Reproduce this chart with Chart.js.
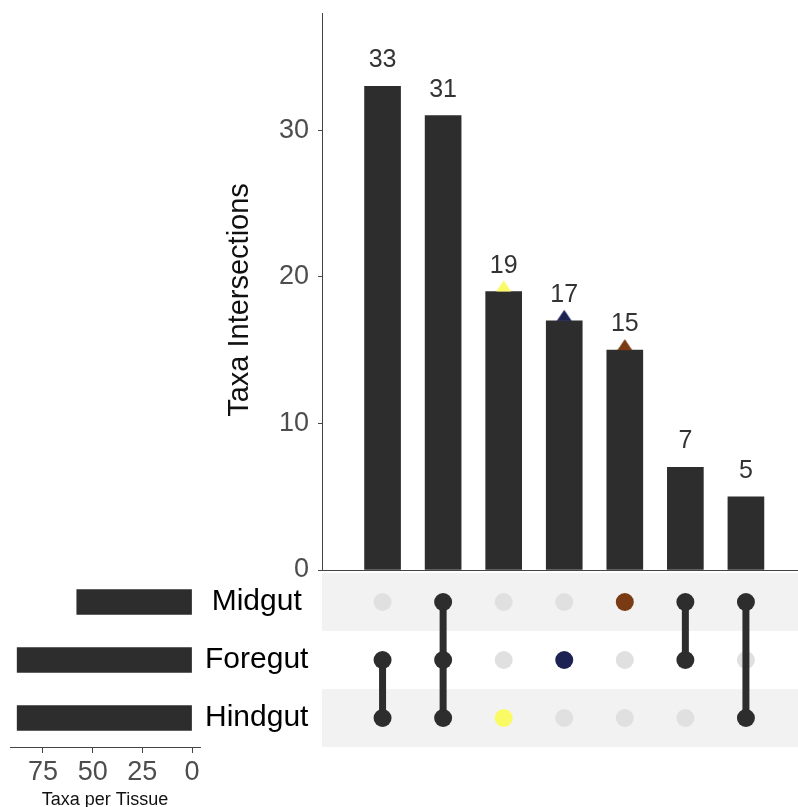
<!DOCTYPE html>
<html lang="en">
<head>
<meta charset="UTF-8">
<title>Taxa Intersections</title>
<script src="https://cdn.jsdelivr.net/npm/chart.js"></script>
<style>
  body { margin: 0; background: #fff; overflow: hidden; }
  .plot { position: relative; width: 798px; height: 807px; overflow: hidden; }
  .plot canvas { position: absolute; }
  #barsChart { left: 0; top: 0; }
  #matrixChart { left: 322px; top: 573px; }
  #setsChart { left: 0; top: 573px; }
</style>
</head>
<body>
<div class="plot">
  <canvas id="matrixChart" width="476" height="174"></canvas>
  <canvas id="setsChart" width="322" height="240"></canvas>
  <canvas id="barsChart" width="798" height="600"></canvas>
</div>
<script>
// tissues, top to bottom in the matrix
const sets = ['Midgut', 'Foregut', 'Hindgut'];
const setSizes = [58, 88, 88];
const setColors = ['#7a3b14', '#1c2353', '#fafa64'];

// intersections, largest first
const intersectionSizes = [33, 31, 19, 17, 15, 7, 5];
const intersectionMembers = [
  ['Foregut', 'Hindgut'],
  ['Midgut', 'Foregut', 'Hindgut'],
  ['Hindgut'],
  ['Foregut'],
  ['Midgut'],
  ['Midgut', 'Foregut'],
  ['Midgut', 'Hindgut']
];

const countTicks = [0, 10, 20, 30];
const tissueTicks = [0, 25, 50, 75];

const ink = '#2d2d2d';
const axisColor = '#444';
const font = '"Liberation Sans", Arial, sans-serif';
const xMin = 0, xMax = 7.86;

const rowOf = name => sets.length - 1 - sets.indexOf(name);

// small triangle sitting on top of the bar (base at the point)
function triangle(color) {
  const c = document.createElement('canvas');
  c.width = 18; c.height = 24;
  const g = c.getContext('2d');
  g.fillStyle = color;
  g.beginPath();
  g.moveTo(9, 1);
  g.lineTo(16.5, 12);
  g.lineTo(1.5, 12);
  g.closePath();
  g.fill();
  return c;
}

// ---------- intersection bars ----------
const markers = [];
const markerStyles = [];
intersectionMembers.forEach((members, i) => {
  if (members.length === 1) {
    markers.push({ x: i + 1, y: intersectionSizes[i] });
    markerStyles.push(triangle(setColors[sets.indexOf(members[0])]));
  }
});

const valueLabels = {
  id: 'valueLabels',
  afterDatasetsDraw(chart) {
    const ctx = chart.ctx;
    ctx.save();
    ctx.font = '25px ' + font;
    ctx.fillStyle = '#333';
    ctx.textAlign = 'center';
    ctx.textBaseline = 'alphabetic';
    chart.getDatasetMeta(0).data.forEach((bar, i) => {
      ctx.fillText(intersectionSizes[i], bar.x, bar.y - 19);
    });
    // y axis title
    ctx.font = '29px ' + font;
    ctx.fillStyle = '#111';
    ctx.translate(248, 300);
    ctx.rotate(-Math.PI / 2);
    ctx.fillText('Taxa Intersections', 0, 0);
    ctx.restore();
  }
};

new Chart(document.getElementById('barsChart'), {
  type: 'bar',
  data: {
    datasets: [{
      type: 'bar',
      data: intersectionSizes.map((v, i) => ({ x: i + 1, y: v })),
      backgroundColor: ink,
      barThickness: 36,
      order: 2
    }, {
      type: 'scatter',
      data: markers,
      pointStyle: markerStyles,
      pointRadius: 8,
      order: 1
    }]
  },
  options: {
    responsive: false,
    animation: false,
    layout: { autoPadding: false, padding: { top: 13, bottom: 30, left: 0, right: 0 } },
    plugins: { legend: { display: false }, tooltip: { enabled: false } },
    scales: {
      x: {
        type: 'linear', min: xMin, max: xMax, offset: false,
        grid: { display: false },
        ticks: { display: false },
        border: { color: axisColor },
        afterFit: s => { s.height = 0; s.paddingLeft = s.paddingRight = 0; }
      },
      y: {
        min: 0, max: 38,
        afterBuildTicks: s => { s.ticks = countTicks.map(v => ({ value: v })); },
        grid: { drawOnChartArea: false, tickLength: 4, color: axisColor },
        border: { color: axisColor },
        ticks: { padding: 9, color: '#4d4d4d', font: { size: 27, family: font } },
        afterFit: s => { s.width = 322; s.paddingTop = s.paddingBottom = 0; }
      }
    }
  },
  plugins: [valueLabels]
});

// ---------- membership matrix ----------
const activeDots = [], activeColors = [], emptyDots = [];
intersectionMembers.forEach((members, i) => {
  sets.forEach((name, k) => {
    const pt = { x: i + 1, y: rowOf(name) };
    if (members.includes(name)) {
      activeDots.push(pt);
      activeColors.push(members.length === 1 ? setColors[k] : ink);
    } else {
      emptyDots.push(pt);
    }
  });
});

const links = [];
intersectionMembers.forEach((members, i) => {
  if (members.length < 2) return;
  const rows = members.map(rowOf);
  links.push({
    type: 'line',
    data: [{ x: i + 1, y: Math.min(...rows) }, { x: i + 1, y: Math.max(...rows) }],
    borderColor: ink,
    borderWidth: 7,
    pointRadius: 0,
    order: 2
  });
});

const rowBands = {
  id: 'rowBands',
  beforeDatasetsDraw(chart) {
    const { ctx, chartArea, scales: { y } } = chart;
    ctx.save();
    ctx.fillStyle = '#f2f2f2';
    sets.forEach((name, k) => {
      if (k % 2) return;
      const top = y.getPixelForValue(rowOf(name) + 0.5);
      const bottom = y.getPixelForValue(rowOf(name) - 0.5);
      ctx.fillRect(chartArea.left, top, chartArea.width, bottom - top);
    });
    ctx.restore();
  }
};

new Chart(document.getElementById('matrixChart'), {
  type: 'scatter',
  data: {
    datasets: [{
      data: activeDots,
      backgroundColor: activeColors,
      pointRadius: 9,
      borderWidth: 0,
      order: 1
    }, ...links, {
      data: emptyDots,
      backgroundColor: '#e0e0e0',
      pointRadius: 9,
      borderWidth: 0,
      order: 3
    }]
  },
  options: {
    responsive: false,
    animation: false,
    layout: { autoPadding: false, padding: 0 },
    plugins: { legend: { display: false }, tooltip: { enabled: false } },
    scales: {
      x: { type: 'linear', min: xMin, max: xMax, offset: false, display: false },
      y: { type: 'linear', min: -0.5, max: 2.5, offset: false, display: false }
    }
  },
  plugins: [rowBands]
});

// ---------- set sizes ----------
new Chart(document.getElementById('setsChart'), {
  type: 'bar',
  data: {
    labels: sets,
    datasets: [{ data: setSizes, backgroundColor: ink, barThickness: 25 }]
  },
  options: {
    indexAxis: 'y',
    responsive: false,
    animation: false,
    layout: { autoPadding: false, padding: { left: 10, top: 0, right: 0, bottom: 0 } },
    plugins: { legend: { display: false }, tooltip: { enabled: false } },
    scales: {
      x: {
        reverse: true, min: -4, max: 91.6,
        afterBuildTicks: s => { s.ticks = tissueTicks.map(v => ({ value: v })); },
        grid: { drawOnChartArea: false, tickLength: 6, color: axisColor },
        border: { color: axisColor },
        ticks: { padding: 3, color: '#4d4d4d', font: { size: 27, family: font } },
        title: {
          display: true, text: 'Taxa per Tissue', color: '#111',
          font: { size: 18, family: font }, padding: { top: 0, bottom: 2 }
        },
        afterFit: s => { s.height = 66; s.paddingLeft = s.paddingRight = 0; }
      },
      y: {
        position: 'right',
        grid: { display: false },
        border: { display: false },
        ticks: { crossAlign: 'center', padding: -3, color: '#000', font: { size: 30, family: font } },
        afterFit: s => { s.width = 122; s.paddingTop = s.paddingBottom = 0; }
      }
    }
  }
});
</script>
</body>
</html>
